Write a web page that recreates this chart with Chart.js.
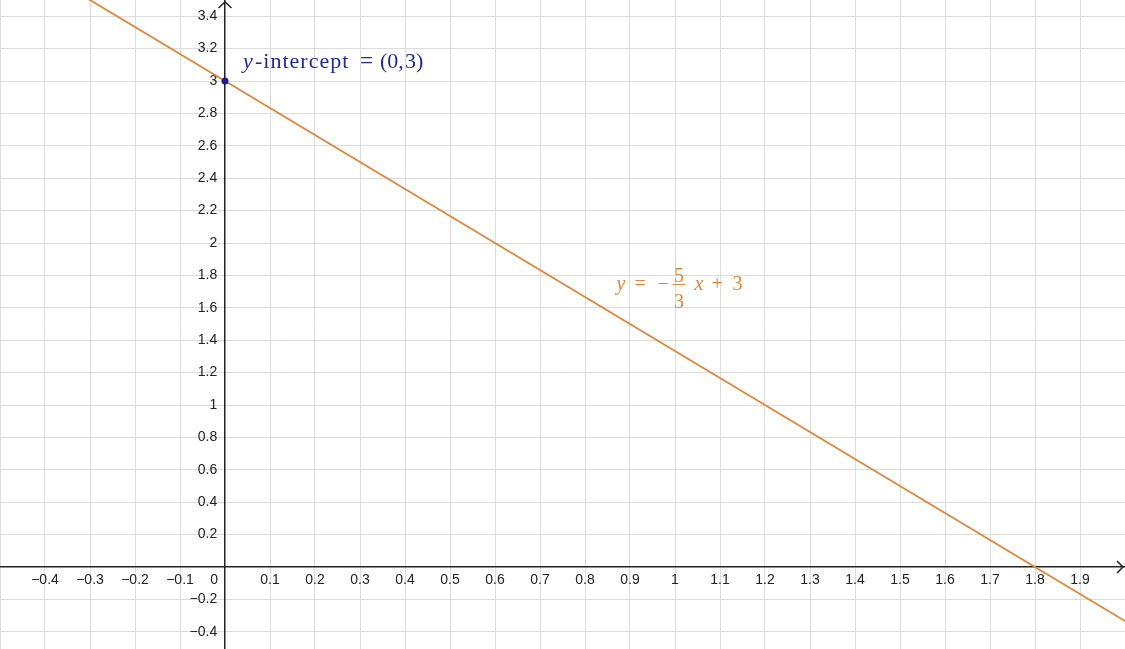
<!DOCTYPE html>
<html>
<head>
<meta charset="utf-8">
<title>y = -5/3 x + 3</title>
<script src="https://cdn.jsdelivr.net/npm/chart.js@4.4.1/dist/chart.umd.min.js"></script>
<style>
  html, body { margin: 0; padding: 0; background: #fff; }
  canvas { display: block; }
</style>
</head>
<body>
<canvas id="graph" width="1125" height="649"></canvas>
<script>
// ----------------- Data -----------------
const xRange = [-0.5, 2.0];
const yRange = [-0.506, 3.5];
const xStep = 0.1;
const yStep = 0.2;

// points on the orange line
const lineX = [-0.5, 0, 0.9, 1.8, 2.0];
const lineY = [3.8333, 3, 1.5, 0, -0.3333];

// the marked y-intercept
const pointX = [0];
const pointY = [3];

// where the two text labels sit (data units)
const interceptLabelAt = [0.04, 3.08];
const equationLabelAt = [0.87, 1.71];

const lineColor = '#d9883a';
const pointColor = '#1c1c96';
const labelBlue = '#25298a';
const axisColor = '#222';
const gridColor = '#dcdcdc';
const tickFont = '"Liberation Sans", Arial, sans-serif';
const mathFont = '"Liberation Serif", "Times New Roman", serif';

// ----------------- Helpers -----------------
function fmt(v) {
  return String(Math.round(v * 10) / 10).replace('-', '\u2212');
}

function noPadding(scale) {
  scale.paddingLeft = scale.paddingRight = scale.paddingTop = scale.paddingBottom = 0;
}

function gridAt(ctx) {
  return ctx.tick && Math.abs(ctx.tick.value) < 1e-9 ? 'rgba(0,0,0,0)' : gridColor;
}

// ----------------- Decorations: arrows, origin label, math labels -----------------
const decorations = {
  id: 'decorations',
  afterDraw(chart) {
    const { ctx, chartArea, scales: { x, y } } = chart;
    const x0 = x.getPixelForValue(0);
    const y0 = y.getPixelForValue(0);

    ctx.save();
    ctx.strokeStyle = axisColor;
    ctx.lineWidth = 1.5;
    ctx.beginPath();
    ctx.moveTo(x0 - 6.5, chartArea.top + 8);
    ctx.lineTo(x0, chartArea.top + 2);
    ctx.lineTo(x0 + 6.5, chartArea.top + 8);
    ctx.moveTo(chartArea.right - 8, y0 - 6);
    ctx.lineTo(chartArea.right - 2, y0);
    ctx.lineTo(chartArea.right - 8, y0 + 6);
    ctx.stroke();

    // origin "0"
    ctx.font = '14px ' + tickFont;
    ctx.fillStyle = axisColor;
    ctx.textAlign = 'right';
    ctx.textBaseline = 'middle';
    ctx.fillText('0', x0 - 7, y0 + 13);

    ctx.textAlign = 'left';
    ctx.textBaseline = 'alphabetic';

    // y-intercept = (0, 3)
    let ax = x.getPixelForValue(interceptLabelAt[0]);
    let ay = y.getPixelForValue(interceptLabelAt[1]);
    ctx.fillStyle = labelBlue;
    ctx.font = 'italic 22px ' + mathFont;
    ctx.fillText('y', ax, ay);
    ctx.font = '22px ' + mathFont;
    ctx.letterSpacing = '1px';
    ctx.fillText('-intercept', ax + 12, ay);
    ctx.letterSpacing = '0px';
    ctx.font = '23px ' + mathFont;
    ctx.fillText('=', ax + 117, ay);
    ctx.font = '22px ' + mathFont;
    ctx.fillText('(0,', ax + 137, ay);
    ctx.fillText('3)', ax + 162, ay);

    // y = -5/3 x + 3
    ax = x.getPixelForValue(equationLabelAt[0]);
    ay = y.getPixelForValue(equationLabelAt[1]);
    ctx.fillStyle = lineColor;
    ctx.strokeStyle = lineColor;
    ctx.font = 'italic 20px ' + mathFont;
    ctx.fillText('y', ax, ay);
    ctx.font = '20px ' + mathFont;
    ctx.fillText('=', ax + 18, ay);
    ctx.fillText('\u2212', ax + 41, ay);
    ctx.textAlign = 'center';
    ctx.fillText('5', ax + 62.5, ay - 8);
    ctx.fillText('3', ax + 62.5, ay + 18);
    ctx.textAlign = 'left';
    ctx.lineWidth = 1;
    ctx.beginPath();
    ctx.moveTo(ax + 56, ay - 5.5);
    ctx.lineTo(ax + 69, ay - 5.5);
    ctx.stroke();
    ctx.font = 'italic 20px ' + mathFont;
    ctx.fillText('x', ax + 78, ay);
    ctx.font = '20px ' + mathFont;
    ctx.fillText('+', ax + 95, ay);
    ctx.fillText('3', ax + 116, ay);
    ctx.restore();
  }
};

// ----------------- Chart -----------------
new Chart(document.getElementById('graph').getContext('2d'), {
  type: 'scatter',
  data: {
    datasets: [
      {
        label: 'line',
        data: lineX.map((v, i) => ({ x: v, y: lineY[i] })),
        showLine: true,
        borderColor: lineColor,
        borderWidth: 1.8,
        pointRadius: 0,
        order: 2
      },
      {
        label: 'intercept',
        data: pointX.map((v, i) => ({ x: v, y: pointY[i] })),
        pointRadius: 3.5,
        backgroundColor: pointColor,
        borderColor: pointColor,
        borderWidth: 0,
        order: 1
      }
    ]
  },
  options: {
    responsive: false,
    animation: false,
    events: [],
    layout: { padding: 0, autoPadding: false },
    plugins: {
      legend: { display: false },
      tooltip: { enabled: false }
    },
    scales: {
      x: {
        type: 'linear',
        min: xRange[0],
        max: xRange[1],
        position: { y: 0 },
        afterFit: noPadding,
        grid: { color: gridAt, lineWidth: 1, drawTicks: false },
        border: { display: true, color: axisColor, width: 1.5 },
        ticks: {
          stepSize: xStep,
          includeBounds: false,
          autoSkip: false,
          maxRotation: 0,
          maxTicksLimit: 100,
          padding: 5,
          color: axisColor,
          font: { family: tickFont, size: 14 },
          callback: (v) => {
            if (Math.abs(v) < 1e-9 || v <= xRange[0] + 1e-9 || v >= xRange[1] - 1e-9) return '';
            return fmt(v);
          }
        }
      },
      y: {
        type: 'linear',
        min: yRange[0],
        max: yRange[1],
        position: { x: 0 },
        afterFit: noPadding,
        grid: { color: gridAt, lineWidth: 1, drawTicks: false },
        border: { display: true, color: axisColor, width: 1.5 },
        ticks: {
          stepSize: yStep,
          includeBounds: false,
          autoSkip: false,
          maxTicksLimit: 100,
          color: axisColor,
          font: { family: tickFont, size: 14 },
          callback: (v) => (Math.abs(v) < 1e-9 ? '' : fmt(v) + '  ')
        }
      }
    }
  },
  plugins: [decorations]
});
</script>
</body>
</html>
